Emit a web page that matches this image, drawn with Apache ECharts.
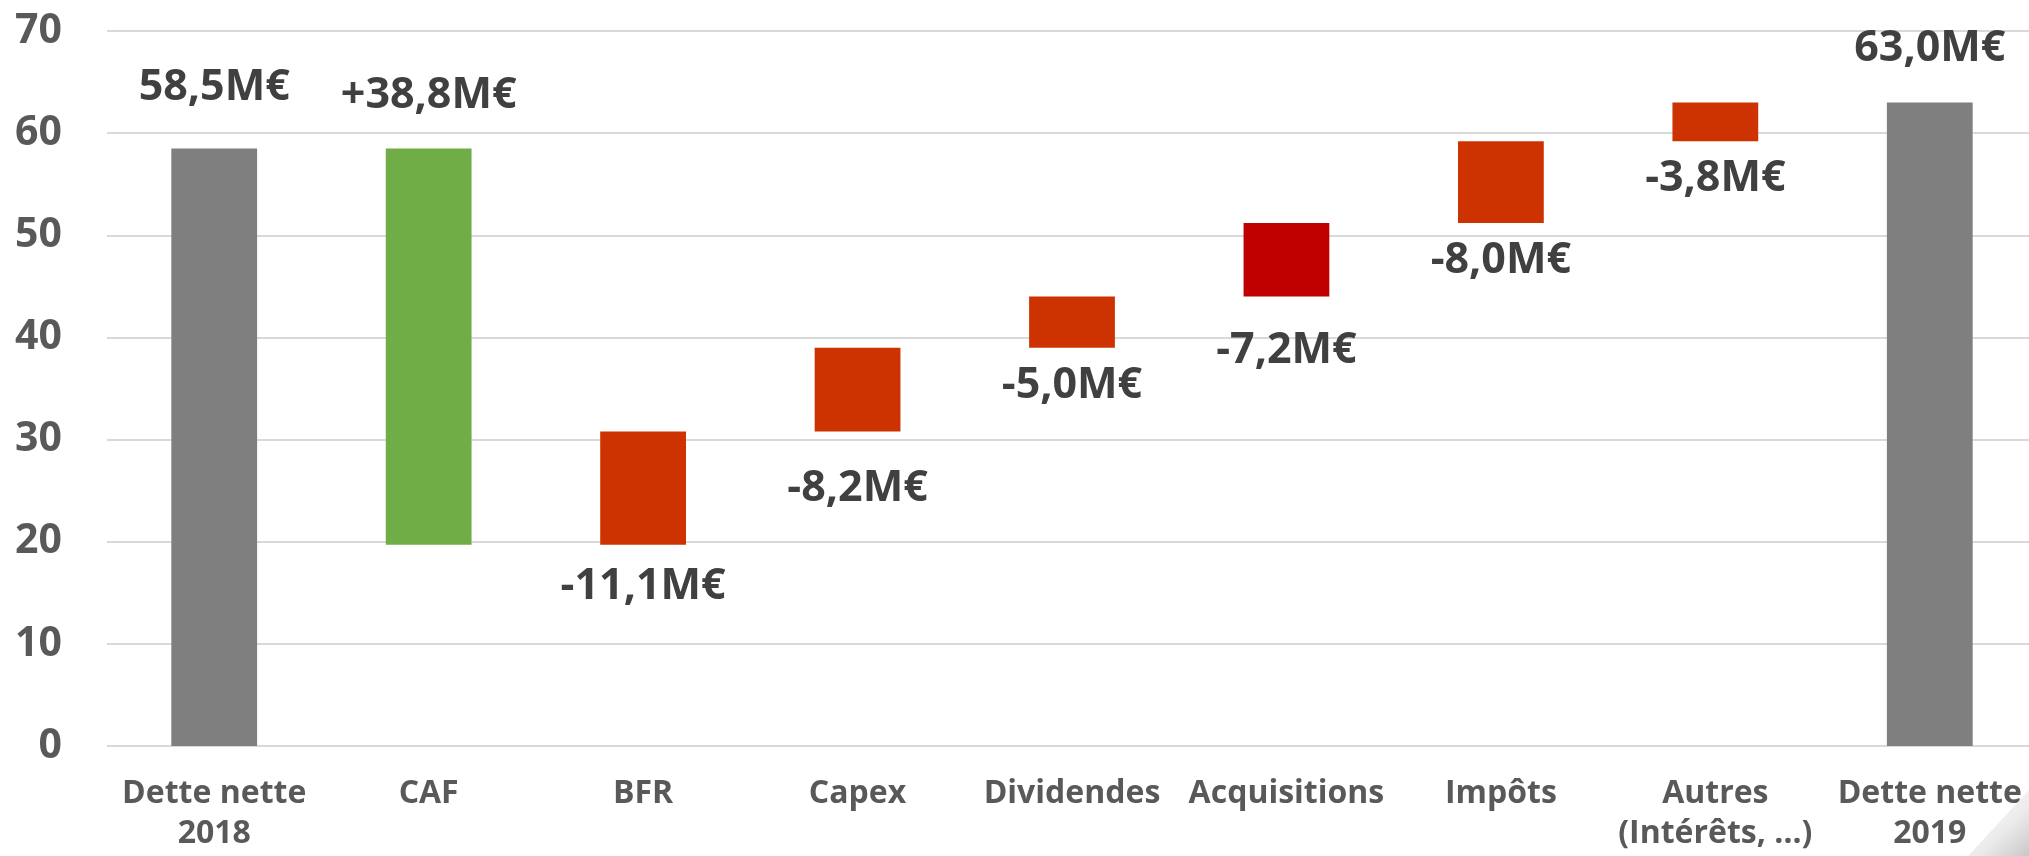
<!DOCTYPE html>
<html>
<head>
<meta charset="utf-8">
<script src="https://cdn.jsdelivr.net/npm/echarts@6/dist/echarts.min.js"></script>
<style>
html,body{margin:0;padding:0;background:#fff;}
#chart{width:2029px;height:856px;}
</style>
</head>
<body>
<div id="chart"></div>
<script>
// ---- data ----
var categories = ['Dette nette\n2018', 'CAF', 'BFR', 'Capex', 'Dividendes', 'Acquisitions', 'Impôts', 'Autres\n(Intérêts, …)', 'Dette nette\n2019'];
var startDebt = 58.5;
var steps = [38.8, -11.1, -8.2, -5.0, -7.2, -8.0, -3.8]; // cash flow items (positive reduces debt)
var endDebt = 63.0;
var yTicks = [0, 10, 20, 30, 40, 50, 60, 70];

// ---- styling (kept apart from data) ----
var barColors = ['#7f7f7f', '#70ad47', '#cc3300', '#cc3300', '#cc3300', '#c00000', '#cc3300', '#cc3300', '#7f7f7f'];
var labelGap = [39, 31, 20, 36, 17, 33, 16, 16, 32];

function fmt(v) { return Math.abs(v).toFixed(1).replace('.', ','); }

// build waterfall
var base = [], size = [], labels = [], above = [];
base.push(0); size.push(startDebt); labels.push(fmt(startDebt) + 'M€'); above.push(true);
var debt = startDebt;
steps.forEach(function (s) {
  var next = debt - s;
  base.push(Math.min(debt, next));
  size.push(Math.abs(s));
  labels.push((s >= 0 ? '+' : '-') + fmt(s) + 'M€');
  above.push(s >= 0);
  debt = next;
});
base.push(0); size.push(endDebt); labels.push(fmt(endDebt) + 'M€'); above.push(true);

var visData = size.map(function (v, i) {
  return {
    value: v,
    itemStyle: { color: barColors[i] },
    label: { position: above[i] ? 'top' : 'bottom', distance: labelGap[i] }
  };
});

var chart = echarts.init(document.getElementById('chart'), null, { renderer: 'canvas' });
chart.setOption({
  animation: false,
  backgroundColor: '#ffffff',
  grid: { left: 107, top: 31, width: 1930, height: 715, containLabel: false, outerBoundsMode: 'none' },
  xAxis: {
    type: 'category',
    data: categories,
    axisLine: { show: false },
    axisTick: { show: false },
    axisLabel: {
      interval: 0,
      margin: 28,
      color: '#595959',
      fontFamily: 'Open Sans',
      fontWeight: 'bold',
      fontSize: 32,
      lineHeight: 40
    }
  },
  yAxis: {
    type: 'value',
    min: yTicks[0],
    max: yTicks[yTicks.length - 1],
    interval: 10,
    axisLine: { show: false },
    axisTick: { show: false },
    splitLine: { lineStyle: { color: '#d9d9d9', width: 2 } },
    axisLabel: {
      margin: 45,
      color: '#595959',
      fontFamily: 'Open Sans',
      fontWeight: 'bold',
      fontSize: 41
    }
  },
  series: [
    {
      type: 'bar',
      stack: 'wf',
      data: base,
      barWidth: '40%',
      itemStyle: { color: 'transparent' },
      silent: true
    },
    {
      type: 'bar',
      stack: 'wf',
      data: visData,
      barWidth: '40%',
      label: {
        show: true,
        fontFamily: 'Open Sans',
        fontWeight: 'bold',
        fontSize: 43,
        lineHeight: 43,
        color: '#404040',
        formatter: function (p) { return labels[p.dataIndex]; }
      }
    }
  ],
  graphic: [
    {
      type: 'polygon',
      shape: { points: [[2029, 790], [2029, 856], [1968, 856]] },
      style: {
        fill: new echarts.graphic.LinearGradient(0, 0, 1, 1, [
          { offset: 0, color: 'rgba(255,255,255,1)' },
          { offset: 0.6, color: 'rgba(235,235,235,1)' },
          { offset: 1, color: 'rgba(200,200,200,1)' }
        ])
      },
      z: 100
    }
  ]
});
</script>
</body>
</html>
